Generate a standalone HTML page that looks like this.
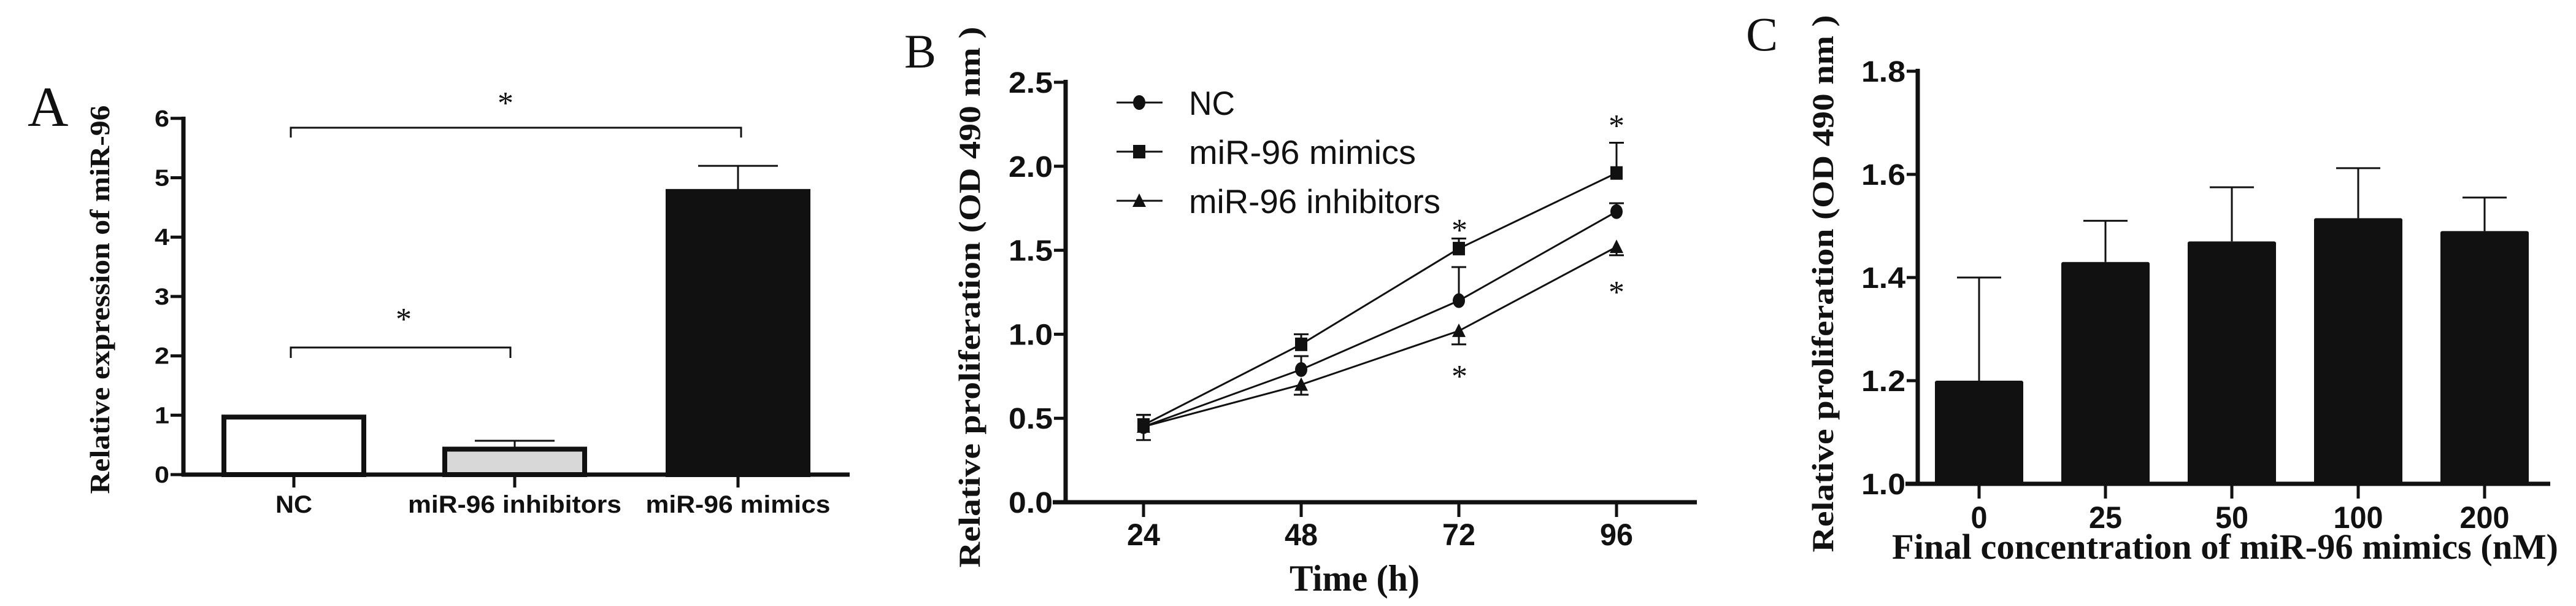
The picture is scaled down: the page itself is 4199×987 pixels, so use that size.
<!DOCTYPE html>
<html><head><meta charset="utf-8"><style>
html,body{margin:0;padding:0;background:#fff}
svg{display:block}
text{fill:#111}
.sb{font-family:"Liberation Sans",sans-serif;font-weight:bold}
.sr{font-family:"Liberation Sans",sans-serif}
.se{font-family:"Liberation Serif",serif;font-weight:bold}
.sn{font-family:"Liberation Serif",serif}
</style></head><body>
<svg id="fig" width="4199" height="987" viewBox="0 0 4199 987" xmlns="http://www.w3.org/2000/svg"></svg>
<script>
// Panel A data
const aCats = ["NC", "miR-96 inhibitors", "miR-96 mimics"];
const aVals = [1.0, 0.46, 4.8];
const aErrs = [0.0, 0.11, 0.4];
const aTicks = [0, 1, 2, 3, 4, 5, 6];
// Panel B data
const bTimes = [24, 48, 72, 96];
const bNC = [0.45, 0.79, 1.20, 1.73];
const bNCerr = [0.07, 0.08, 0.20, 0.05];
const bMim = [0.46, 0.94, 1.51, 1.96];
const bMimErr = [0.06, 0.06, 0.06, 0.18];
const bInh = [0.45, 0.70, 1.02, 1.52];
const bInhErr = [0.08, 0.06, 0.08, 0.05];
const bTicks = [0.0, 0.5, 1.0, 1.5, 2.0, 2.5];
// Panel C data
const cCats = ["0", "25", "50", "100", "200"];
const cVals = [1.20, 1.43, 1.47, 1.515, 1.49];
const cErrs = [0.20, 0.08, 0.105, 0.097, 0.065];
const cTicks = [1.0, 1.2, 1.4, 1.6, 1.8];

const NS = "http://www.w3.org/2000/svg";
const svg = document.getElementById("fig");
function el(tag, attrs, parent) {
  const e = document.createElementNS(NS, tag);
  for (const k in attrs) e.setAttribute(k, attrs[k]);
  (parent || svg).appendChild(e);
  return e;
}
function txt(str, x, y, cls, size, anchor, len, parent, rot) {
  const t = el("text", {x: x, y: y, "class": cls, "font-size": size, "text-anchor": anchor || "middle"}, parent);
  if (len) { t.setAttribute("textLength", len); t.setAttribute("lengthAdjust", "spacingAndGlyphs"); }
  if (rot) t.setAttribute("transform", "rotate(-90 " + x + " " + y + ")");
  t.textContent = str;
  return t;
}
function star(x, y, g) {
  const t = txt("*", x, y, "sn", 52, "middle", null, g);
  
  
}

// ---------- Panel A ----------
const gA = el("g", {});


const aY = v => 773 - v * 96.7;
const aX = [479, 839, 1203];
const aW = 236;
const aLbl = txt("A", 45, 205, "sn", 92, "start", null, gA);


const aYT = txt("Relative expression of miR-96", 178, 488, "se", 46, "middle", 633, gA, true);


aTicks.forEach(v => {
  el("line", {x1: 278, x2: 299, y1: aY(v), y2: aY(v), stroke: "#111", "stroke-width": 5}, gA);
  const t = txt(String(v), 276, aY(v) + 13, "sb", 38, "end", 24, gA);
  
  
});
aVals.forEach((v, i) => {
  const fill = i === 0 ? "#fff" : (i === 1 ? "#d8d8d8" : "#111");
  const r = el("rect", {x: aX[i] - aW / 2 + 4, y: aY(v) + 3, width: aW - 8, height: aY(0) - aY(v) - 3, fill: fill, stroke: "#111", "stroke-width": 8}, gA);
  
  
  if (aErrs[i] > 0) {
    el("line", {x1: aX[i], x2: aX[i], y1: aY(v), y2: aY(v + aErrs[i]), stroke: "#111", "stroke-width": 3}, gA);
    el("line", {x1: aX[i] - 65, x2: aX[i] + 65, y1: aY(v + aErrs[i]), y2: aY(v + aErrs[i]), stroke: "#111", "stroke-width": 3}, gA);
  }
  el("line", {x1: aX[i], x2: aX[i], y1: 773, y2: 794, stroke: "#111", "stroke-width": 5}, gA);
  const lens = [60, 348, 301];
  const t = txt(aCats[i], aX[i], 835, "sb", 40, "middle", lens[i], gA);
  
  
});
el("line", {x1: 299, x2: 299, y1: 190, y2: 776, stroke: "#111", "stroke-width": 7}, gA);
el("line", {x1: 296, x2: 1385, y1: 773, y2: 773, stroke: "#111", "stroke-width": 7}, gA);
el("path", {d: "M474 224 V208 H1208 V224", fill: "none", stroke: "#111", "stroke-width": 3}, gA);
el("path", {d: "M474 583 V566 H832 V583", fill: "none", stroke: "#111", "stroke-width": 3}, gA);
star(824, 185, gA);
star(658, 537, gA);

// ---------- Panel B ----------
const gB = el("g", {});


const bY = v => 818 - v * 273.6;
const bX = t => 1864 + (t - 24) / 24 * 257;
const bLbl = txt("B", 1474, 110, "sn", 78, "start", null, gB);


const bYT = txt("Relative proliferation (OD 490 nm )", 1597, 484, "se", 50, "middle", 881, gB, true);


bTicks.forEach(v => {
  el("line", {x1: 1718, x2: 1737, y1: bY(v), y2: bY(v), stroke: "#111", "stroke-width": 5}, gB);
  const t = txt(v.toFixed(1), 1716, bY(v) + 17, "sb", 48, "end", 72, gB);
  
  
});
bTimes.forEach(t => {
  el("line", {x1: bX(t), x2: bX(t), y1: 818, y2: 842, stroke: "#111", "stroke-width": 5}, gB);
  const l = txt(String(t), bX(t), 888, "sb", 50, "middle", 54, gB);
  
  
});
el("line", {x1: 1737, x2: 1737, y1: 130, y2: 821, stroke: "#111", "stroke-width": 7}, gB);
el("line", {x1: 1716, x2: 2766, y1: 818, y2: 818, stroke: "#111", "stroke-width": 7}, gB);
const bXT = txt("Time (h)", 2208, 962, "se", 60, "middle", 212, gB);



function marker(kind, x, y, g) {
  let m;
  if (kind === "circle") m = el("ellipse", {cx: x, cy: y, rx: 10, ry: 12, fill: "#111"}, g);
  else if (kind === "square") m = el("rect", {x: x - 10, y: y - 11, width: 20, height: 22, fill: "#111"}, g);
  else m = el("path", {d: `M${x} ${y - 12} L${x + 11} ${y + 10} L${x - 11} ${y + 10} Z`, fill: "#111"}, g);
  return m;
}
const series = [
  {name: "NC", vals: bNC, errs: bNCerr, kind: "circle", dir: 1},
  {name: "miR-96 mimics", vals: bMim, errs: bMimErr, kind: "square", dir: 1},
  {name: "miR-96 inhibitors", vals: bInh, errs: bInhErr, kind: "triangle", dir: -1}
];
series.forEach((s, si) => {
  const g = el("g", {}, gB);
  
  
  const pts = s.vals.map((v, i) => bX(bTimes[i]) + "," + bY(v)).join(" ");
  el("polyline", {points: pts, fill: "none", stroke: "#111", "stroke-width": 3}, g);
  s.vals.forEach((v, i) => {
    const x = bX(bTimes[i]);
    const e = v + s.dir * s.errs[i];
    el("line", {x1: x, x2: x, y1: bY(v), y2: bY(e), stroke: "#111", "stroke-width": 3}, g);
    el("line", {x1: x - 12, x2: x + 12, y1: bY(e), y2: bY(e), stroke: "#111", "stroke-width": 3}, g);
    const m = marker(s.kind, x, bY(v), g);
    
    
  });
  const ly = [167, 247, 327][si];
  const lg = el("g", {}, gB);
  
  
  el("line", {x1: 1820, x2: 1895, y1: ly, y2: ly, stroke: "#111", "stroke-width": 3}, lg);
  marker(s.kind, 1857, ly, lg);
  const lens = [75, 370, 410];
  txt(s.name, 1938, ly + 20, "sr", 55, "start", lens[si], lg);
});
star(2379, 392, gB);
star(2379, 630, gB);
star(2635, 222, gB);
star(2635, 493, gB);

// ---------- Panel C ----------
const gC = el("g", {});


const cY = v => 788 - (v - 1.0) * 840;
const cX = i => 3226 + i * 206;
const cLbl = txt("C", 2846, 82, "sn", 78, "start", null, gC);


const cYT = txt("Relative proliferation (OD 490 nm )", 2988, 462, "se", 50, "middle", 875, gC, true);


cTicks.forEach(v => {
  el("line", {x1: 3108, x2: 3126, y1: cY(v), y2: cY(v), stroke: "#111", "stroke-width": 5}, gC);
  const t = txt(v.toFixed(1), 3106, cY(v) + 17, "sb", 48, "end", 72, gC);
  
  
});
cVals.forEach((v, i) => {
  const x = cX(i);
  const r = el("rect", {x: x - 72, y: cY(v), width: 144, height: cY(1.0) - cY(v), fill: "#111", rx: 3}, gC);
  
  
  el("line", {x1: x, x2: x, y1: cY(v), y2: cY(v + cErrs[i]), stroke: "#111", "stroke-width": 3}, gC);
  el("line", {x1: x - 36, x2: x + 36, y1: cY(v + cErrs[i]), y2: cY(v + cErrs[i]), stroke: "#111", "stroke-width": 3}, gC);
  el("line", {x1: x, x2: x, y1: 788, y2: 812, stroke: "#111", "stroke-width": 5}, gC);
  const t = txt(cCats[i], x, 860, "sb", 50, "middle", cCats[i].length * 27, gC);
  
  
});
el("line", {x1: 3126, x2: 3126, y1: 112, y2: 791, stroke: "#111", "stroke-width": 7}, gC);
el("line", {x1: 3106, x2: 4157, y1: 788, y2: 788, stroke: "#111", "stroke-width": 7}, gC);
const cXT = txt("Final concentration of miR-96 mimics (nM)", 3627, 910, "se", 58, "middle", 1086, gC);


</script>
</body></html>
